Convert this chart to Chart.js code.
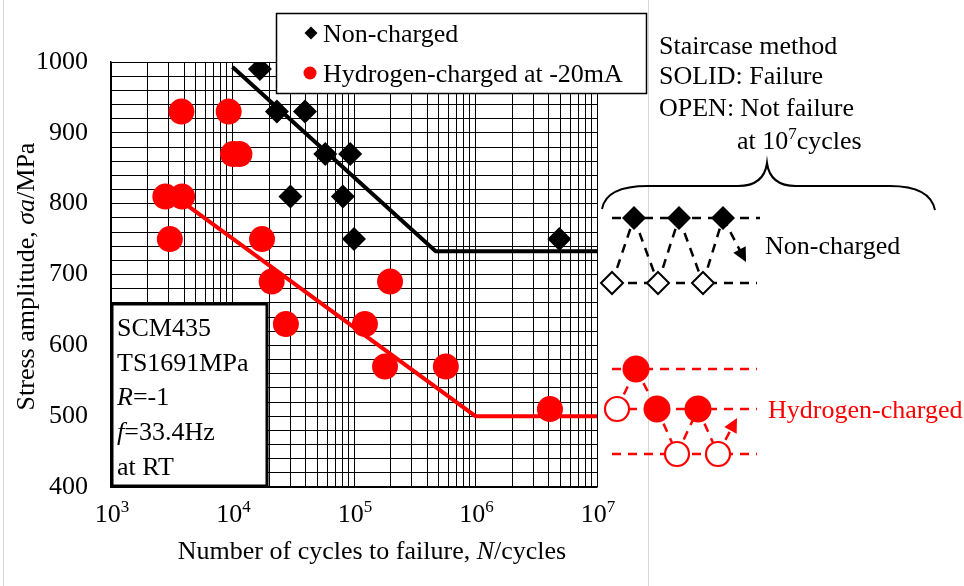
<!DOCTYPE html>
<html>
<head>
<meta charset="utf-8">
<script src="https://cdn.jsdelivr.net/npm/chart.js@4.4.0/dist/chart.umd.min.js"></script>
<style>
  html, body { margin: 0; padding: 0; background: #fff; }
  #wrap { width: 964px; height: 586px; }
</style>
</head>
<body>
<div id="wrap"><canvas id="snChart" width="964" height="586"></canvas></div>
<script>
// S-N data (cycles, stress amplitude MPa)
const nonChargedN = [1.68e4, 2.32e4, 3.95e4, 5.8e4, 9.3e4, 3.0e4, 8.1e4, 1.0e5, 4.9e6];
const nonChargedS = [990, 930, 930, 870, 870, 810, 810, 750, 750];
const hydrogenN = [3.8e3, 9.3e3, 1.01e4, 1.14e4, 2.8e3, 3.85e3, 3.05e3, 1.75e4, 2.1e4, 2.75e4, 1.98e5, 1.23e5, 1.8e5, 5.7e5, 4.1e6];
const hydrogenS = [930, 930, 870, 870, 810, 810, 750, 750, 690, 630, 690, 630, 570, 570, 510];

// fitted S-N lines with fatigue limit
const nonChargedFitN = [1.0e4, 4.7e5, 1.0e7];
const nonChargedFitS = [993, 733, 733];
const hydrogenFitN = [3.7e3, 1.0e6, 1.0e7];
const hydrogenFitS = [805, 500, 500];

// axes
const stressLabels = [400, 500, 600, 700, 800, 900, 1000];
const cycleDecades = [3, 4, 5, 6, 7];

const SERIF = '"Liberation Serif", "Times New Roman", serif';
const RED = '#ff0000';
const FS = 26;

// grid: every 20 MPa, every integer significand per decade
const stressGrid = [];
for (let s = stressLabels[0]; s <= stressLabels[stressLabels.length - 1]; s += 20) stressGrid.push(s);
const cycleGrid = [];
cycleDecades.forEach((d, i) => {
  if (i === cycleDecades.length - 1) { cycleGrid.push(Math.pow(10, d)); return; }
  for (let k = 1; k <= 9; k++) cycleGrid.push(k * Math.pow(10, d));
});

const toPoints = (xs, ys) => xs.map((x, i) => ({ x: x, y: ys[i] }));

function font(size, italic) {
  return (italic ? 'italic ' : '') + size + 'px ' + SERIF;
}

// draw a run of mixed text pieces (italic / superscript)
function drawRuns(ctx, runs, x, y, align) {
  let total = 0;
  runs.forEach(r => {
    ctx.font = font(r.size || FS, r.italic);
    r.w = ctx.measureText(r.t).width;
    total += r.w;
  });
  let cx = align === 'center' ? x - total / 2 : (align === 'right' ? x - total : x);
  ctx.textAlign = 'left';
  ctx.textBaseline = 'alphabetic';
  runs.forEach(r => {
    ctx.font = font(r.size || FS, r.italic);
    ctx.fillText(r.t, cx, y + (r.dy || 0));
    cx += r.w;
  });
}

function diamond(ctx, x, y, r, filled, color) {
  ctx.beginPath();
  ctx.moveTo(x, y - r);
  ctx.lineTo(x + r, y);
  ctx.lineTo(x, y + r);
  ctx.lineTo(x - r, y);
  ctx.closePath();
  if (filled) { ctx.fillStyle = color; ctx.fill(); }
  else { ctx.fillStyle = '#fff'; ctx.fill(); ctx.lineWidth = 2; ctx.strokeStyle = color; ctx.stroke(); }
}

function circle(ctx, x, y, r, filled, color) {
  ctx.beginPath();
  ctx.arc(x, y, r, 0, Math.PI * 2);
  if (filled) { ctx.fillStyle = color; ctx.fill(); }
  else { ctx.fillStyle = '#fff'; ctx.fill(); ctx.lineWidth = 2.2; ctx.strokeStyle = color; ctx.stroke(); }
}

function dashed(ctx, x1, y1, x2, y2, color) {
  ctx.save();
  ctx.setLineDash([9, 7]);
  ctx.lineWidth = 2.5;
  ctx.strokeStyle = color;
  ctx.beginPath();
  ctx.moveTo(x1, y1);
  ctx.lineTo(x2, y2);
  ctx.stroke();
  ctx.restore();
}

function arrowHead(ctx, fx, fy, tx, ty, color) {
  const a = Math.atan2(ty - fy, tx - fx);
  const len = 14, half = 7;
  ctx.beginPath();
  ctx.moveTo(tx, ty);
  ctx.lineTo(tx - len * Math.cos(a) + half * Math.sin(a), ty - len * Math.sin(a) - half * Math.cos(a));
  ctx.lineTo(tx - len * Math.cos(a) - half * Math.sin(a), ty - len * Math.sin(a) + half * Math.cos(a));
  ctx.closePath();
  ctx.fillStyle = color;
  ctx.fill();
}

// staircase chain: markers [x, y, filled], then arrow to a tip
function staircase(ctx, lines, marks, tip, color, shape, rFill, rOpen) {
  lines.forEach(l => dashed(ctx, l[0], l[1], l[2], l[1], color));
  for (let i = 0; i < marks.length - 1; i++) {
    dashed(ctx, marks[i][0], marks[i][1], marks[i + 1][0], marks[i + 1][1], color);
  }
  const last = marks[marks.length - 1];
  const a = Math.atan2(tip[1] - last[1], tip[0] - last[0]);
  dashed(ctx, last[0], last[1], tip[0] - 10 * Math.cos(a), tip[1] - 10 * Math.sin(a), color);
  arrowHead(ctx, last[0], last[1], tip[0], tip[1], color);
  marks.forEach(m => {
    if (shape === 'diamond') diamond(ctx, m[0], m[1], m[2] ? rFill : rOpen, m[2], color);
    else circle(ctx, m[0], m[1], m[2] ? rFill : rOpen, m[2], color);
  });
}

const annotations = {
  id: 'annotations',
  afterDraw(chart) {
    const ctx = chart.ctx;
    const xs = chart.scales.x;
    const area = chart.chartArea;
    ctx.save();

    // faint page edges
    ctx.strokeStyle = '#d6d6d6';
    ctx.lineWidth = 1;
    ctx.beginPath();
    ctx.moveTo(648.5, 0); ctx.lineTo(648.5, 586);
    ctx.moveTo(3.5, 0); ctx.lineTo(3.5, 586);
    ctx.stroke();

    // x tick labels 10^n
    cycleDecades.forEach(d => {
      const px = xs.getPixelForValue(Math.pow(10, d));
      ctx.fillStyle = '#000';
      drawRuns(ctx, [{ t: '10' }, { t: String(d), size: 17, dy: -10 }], px + 1, 522, 'center');
    });

    // axis titles
    ctx.fillStyle = '#000';
    drawRuns(ctx, [{ t: 'Number of cycles to failure, ' }, { t: 'N', italic: true }, { t: '/cycles' }], 372, 559, 'center');
    ctx.save();
    ctx.translate(34, (area.top + area.bottom) / 2 + 2);
    ctx.rotate(-Math.PI / 2);
    drawRuns(ctx, [{ t: 'Stress amplitude, ' }, { t: 'σa', italic: true }, { t: '/MPa' }], 0, 0, 'center');
    ctx.restore();

    // material info box
    ctx.fillStyle = '#fff';
    ctx.fillRect(area.left, 303, 156, area.bottom - 303);
    ctx.lineWidth = 3;
    ctx.strokeStyle = '#000';
    ctx.strokeRect(area.left + 1, 304, 155, area.bottom - 305);
    ctx.fillStyle = '#000';
    const infoLines = [
      [{ t: 'SCM435' }],
      [{ t: 'TS1691MPa' }],
      [{ t: 'R', italic: true }, { t: '=-1' }],
      [{ t: 'f', italic: true }, { t: '=33.4Hz' }],
      [{ t: 'at RT' }]
    ];
    infoLines.forEach((runs, i) => drawRuns(ctx, runs, 117, 336 + i * 34.7, 'left'));

    // legend box
    ctx.fillStyle = '#fff';
    ctx.fillRect(276, 13, 370, 80);
    ctx.lineWidth = 1.5;
    ctx.strokeStyle = '#000';
    ctx.strokeRect(276.5, 13.5, 370, 80);
    diamond(ctx, 311, 33, 6.5, true, '#000');
    circle(ctx, 310, 73, 6.5, true, RED);
    ctx.fillStyle = '#000';
    drawRuns(ctx, [{ t: 'Non-charged' }], 323, 42, 'left');
    drawRuns(ctx, [{ t: 'Hydrogen-charged at -20mA' }], 323, 82, 'left');

    // staircase explanation
    ctx.fillStyle = '#000';
    drawRuns(ctx, [{ t: 'Staircase method' }], 659, 54, 'left');
    drawRuns(ctx, [{ t: 'SOLID: Failure' }], 659, 84, 'left');
    drawRuns(ctx, [{ t: 'OPEN: Not failure' }], 659, 116, 'left');
    drawRuns(ctx, [{ t: 'at 10' }, { t: '7', size: 17, dy: -10 }, { t: 'cycles' }], 737, 149, 'left');

    // curly brace
    ctx.beginPath();
    ctx.moveTo(602, 209);
    ctx.quadraticCurveTo(606, 186, 648, 186);
    ctx.lineTo(738, 186);
    ctx.quadraticCurveTo(764, 186, 767, 163);
    ctx.quadraticCurveTo(770, 186, 796, 186);
    ctx.lineTo(890, 186);
    ctx.quadraticCurveTo(930, 186, 935, 210);
    ctx.lineWidth = 2;
    ctx.strokeStyle = '#000';
    ctx.stroke();

    staircase(ctx,
      [[612, 218, 760], [612, 283, 757]],
      [[612, 283, false], [634, 218, true], [658, 283, false], [679, 218, true], [703, 283, false], [723, 218, true]],
      [746, 262], '#000', 'diamond', 12, 11);
    ctx.fillStyle = '#000';
    drawRuns(ctx, [{ t: 'Non-charged' }], 765, 254, 'left');

    staircase(ctx,
      [[612, 369, 757], [612, 409, 757], [612, 454, 757]],
      [[617, 409, false], [636, 369, true], [657, 409, true], [677, 454, false], [698, 409, true], [718, 454, false]],
      [737, 418], RED, 'circle', 13.5, 12);
    ctx.fillStyle = RED;
    drawRuns(ctx, [{ t: 'Hydrogen-charged' }], 768, 418, 'left');

    ctx.restore();
  }
};

const ctx = document.getElementById('snChart').getContext('2d');
const snChart = new Chart(ctx, {
  type: 'scatter',
  data: {
    datasets: [
      {
        label: 'Non-charged',
        data: toPoints(nonChargedN, nonChargedS),
        pointStyle: 'rectRot',
        pointRadius: 12,
        backgroundColor: '#000',
        borderWidth: 0
      },
      {
        label: 'Hydrogen-charged at -20mA',
        data: toPoints(hydrogenN, hydrogenS),
        pointStyle: 'circle',
        pointRadius: 13,
        backgroundColor: RED,
        borderWidth: 0
      },
      {
        label: 'Non-charged fit',
        data: toPoints(nonChargedFitN, nonChargedFitS),
        showLine: true,
        pointRadius: 0,
        borderColor: '#000',
        borderWidth: 4
      },
      {
        label: 'Hydrogen fit',
        data: toPoints(hydrogenFitN, hydrogenFitS),
        showLine: true,
        pointRadius: 0,
        borderColor: RED,
        borderWidth: 4
      }
    ]
  },
  options: {
    responsive: false,
    animation: false,
    devicePixelRatio: 1,
    layout: { padding: { left: 0, right: 367, top: 62, bottom: 0 } },
    plugins: {
      legend: { display: false },
      tooltip: { enabled: false }
    },
    scales: {
      x: {
        type: 'logarithmic',
        min: 1e3,
        max: 1e7,
        afterBuildTicks: s => { s.ticks = cycleGrid.map(v => ({ value: v })); },
        afterFit: s => { s.height = 99; },
        ticks: { display: false },
        grid: { color: '#000', lineWidth: 1, drawTicks: false },
        border: { color: '#000', width: 1.5 }
      },
      y: {
        min: 400,
        max: 1000,
        afterBuildTicks: s => { s.ticks = stressGrid.map(v => ({ value: v })); },
        afterFit: s => { s.width = 111; },
        ticks: {
          autoSkip: false,
          padding: 23,
          color: '#000',
          font: { family: SERIF, size: FS },
          callback: v => stressLabels.includes(v) ? String(v) : ''
        },
        grid: { color: '#000', lineWidth: 1, drawTicks: false },
        border: { color: '#000', width: 1.5 }
      }
    }
  },
  plugins: [annotations]
});
</script>
</body>
</html>
